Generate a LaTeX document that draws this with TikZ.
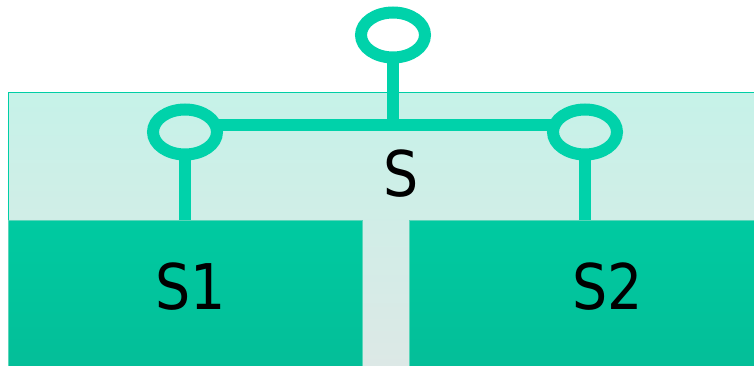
\documentclass[tikz,border=0pt]{standalone}
\usepackage{fontspec}
\setmainfont{DejaVu Sans}
\newfontfamily\lblfont[FakeStretch=0.88]{DejaVu Sans}
\usetikzlibrary{shapes.geometric}

\definecolor{ring}{RGB}{0,210,170}
\definecolor{sysedge}{RGB}{0,206,166}
\definecolor{systop}{RGB}{198,242,232}
\definecolor{sysbot}{RGB}{221,232,230}
\definecolor{parttop}{RGB}{0,202,161}
\definecolor{partbot}{RGB}{4,190,152}
\definecolor{partedge}{RGB}{90,214,186}

\begin{document}
\begin{tikzpicture}[x=1pt,y=-1pt]

    \tikzset{port/.style={draw=ring,shape=ellipse,line width=12pt,minimum width=64pt,minimum height=45pt,inner sep=0pt,outer sep=0pt},
             part/.style={draw=partedge,line width=0.8pt,top color=parttop,bottom color=partbot,inner sep=0pt,outer sep=0pt,anchor=north west,minimum height=150pt},
             lbl/.style={font=\lblfont\fontsize{63}{70}\selectfont,inner sep=0pt}}
    \useasboundingbox (0,0) rectangle (754,366);
    \clip (0,0) rectangle (754,366);

    % the composite and its two parts
    \node[draw=sysedge,line width=1pt,top color=systop,bottom color=sysbot,minimum width=760pt,minimum height=280pt,anchor=north west,outer sep=0pt] (sys) at (8,93) {};
    \node[part,minimum width=354pt] (s1) at (8,220) {};
    \node[part,minimum width=350pt] (s2) at (409,220) {};

    \node[lbl] (lsys) at (401,174) {S};
    \node[lbl] (ls1) at (191,287) {S1};
    \node[lbl] (ls2) at (608,287) {S2};

    % ports
    \node[port] (top) at (393,35) {};
    \node[port] (left) at (185,132) {};
    \node[port] (right) at (585,132) {};

    \begin{scope}[every path/.style={draw=ring,line width=12pt}]
        \draw (left.13) -- (right.167);
        \draw (top.south) -- (top.south |- left.13);
        \draw (left.south) -- (left.south |- s1.north);
        \draw (right.south) -- (right.south |- s2.north);
    \end{scope}
\end{tikzpicture}
\end{document}
